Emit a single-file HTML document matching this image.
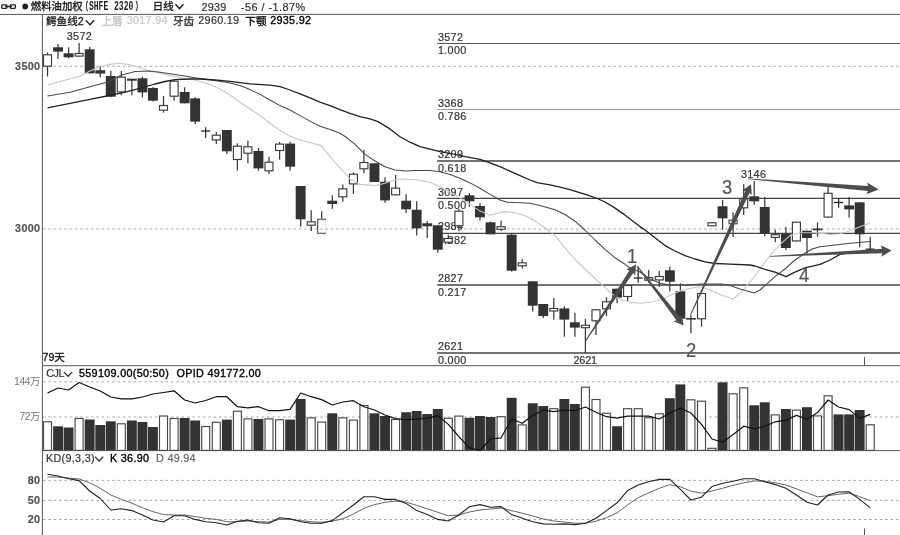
<!DOCTYPE html>
<html lang="zh-CN">
<head>
<meta charset="utf-8">
<title>燃料油加权 日线</title>
<style>
html,body{margin:0;padding:0;background:#fff;}
body{width:900px;height:535px;position:relative;overflow:hidden;font-family:"Liberation Sans","Noto Sans CJK SC",sans-serif;}
.t{position:absolute;white-space:nowrap;line-height:1.2;}
.n{letter-spacing:0.3px;-webkit-text-stroke:0.2px currentColor;}
.k{-webkit-text-stroke:0.35px currentColor;}
.big{transform-origin:0 50%;transform:scaleX(0.9);-webkit-text-stroke:0.2px currentColor;}
.pr{font-size:11px;position:relative;top:-0.9px;font-weight:normal;-webkit-text-stroke:0.4px currentColor;}
.mono{font-family:"Liberation Mono",monospace;transform-origin:0 50%;transform:scaleX(0.6);word-spacing:1.6px;}
.cj{-webkit-text-stroke:0.3px currentColor;font-family:"Liberation Sans","Noto Sans CJK SC",sans-serif;}
</style>
</head>
<body>
<svg width="900" height="535" viewBox="0 0 900 535" style="position:absolute;left:0;top:0">
<rect width="900" height="535" fill="#fff"/>
<g stroke="#555" stroke-width="1" fill="none">
<line x1="0" y1="14.4" x2="900" y2="14.4"/>
<line x1="42.4" y1="14.3" x2="42.4" y2="535"/>
<line x1="42.4" y1="365.7" x2="900" y2="365.7"/>
<line x1="42.4" y1="450.6" x2="900" y2="450.6"/>
<line x1="864.5" y1="357" x2="864.5" y2="365.5"/>
<line x1="864.5" y1="528.5" x2="864.5" y2="535"/>
</g>
<g stroke="#aaa" stroke-width="1" stroke-dasharray="2.6,2.73" fill="none">
<line x1="43" y1="66.3" x2="900" y2="66.3"/>
<line x1="43" y1="229.0" x2="900" y2="229.0"/>
<line x1="43" y1="381.8" x2="900" y2="381.8"/>
<line x1="43" y1="417" x2="900" y2="417"/>
<line x1="43" y1="480.4" x2="900" y2="480.4"/>
<line x1="43" y1="500.4" x2="900" y2="500.4"/>
<line x1="43" y1="519.5" x2="900" y2="519.5"/>
</g>
<line x1="437.2" y1="43.5" x2="900" y2="43.5" stroke="#555" stroke-width="1.1"/>
<line x1="437.2" y1="109.5" x2="900" y2="109.5" stroke="#999" stroke-width="1"/>
<line x1="437.2" y1="161" x2="900" y2="161" stroke="#444" stroke-width="1.5"/>
<line x1="437.2" y1="198.4" x2="900" y2="198.4" stroke="#444" stroke-width="1.15"/>
<line x1="437.2" y1="233.3" x2="900" y2="233.3" stroke="#444" stroke-width="1.25"/>
<line x1="437.2" y1="285" x2="900" y2="285" stroke="#444" stroke-width="1.5"/>
<line x1="437.2" y1="353" x2="900" y2="353" stroke="#444" stroke-width="1.5"/>
<g font-family="Liberation Sans, sans-serif" font-size="10.8" fill="#333" stroke="#333" stroke-width="0.2" letter-spacing="0.3">
<text x="438" y="40.6">3572</text>
<text x="438" y="54.3">1.000</text>
<text x="438" y="106.6">3368</text>
<text x="438" y="120.3">0.786</text>
<text x="438" y="158.1">3209</text>
<text x="438" y="171.8">0.618</text>
<text x="438" y="195.5">3097</text>
<text x="438" y="209.2">0.500</text>
<text x="438" y="230.4">2984</text>
<text x="438" y="244.1">0.382</text>
<text x="438" y="282.1">2827</text>
<text x="438" y="295.8">0.217</text>
<text x="438" y="350.1">2621</text>
<text x="438" y="363.8">0.000</text>
</g>
<g>
<line x1="47.5" y1="52.4" x2="47.5" y2="76.4" stroke="#3a3a3a" stroke-width="1.25"/>
<rect x="43.5" y="54.8" width="8.0" height="11.4" fill="#fff" stroke="#3c3c3c" stroke-width="1.15"/>
<line x1="58.0" y1="44" x2="58.0" y2="59" stroke="#3a3a3a" stroke-width="1.25"/>
<rect x="53.1" y="47.3" width="9.9" height="4.3" fill="#333"/>
<line x1="68.6" y1="47.3" x2="68.6" y2="58.3" stroke="#3a3a3a" stroke-width="1.25"/>
<rect x="63.6" y="53.3" width="9.9" height="4.0" fill="#333"/>
<line x1="79.1" y1="43" x2="79.1" y2="56.6" stroke="#3a3a3a" stroke-width="1.25"/>
<rect x="75.1" y="53.5" width="8.0" height="2.6" fill="#fff" stroke="#3c3c3c" stroke-width="1.15"/>
<line x1="89.7" y1="47" x2="89.7" y2="73.3" stroke="#3a3a3a" stroke-width="1.25"/>
<rect x="84.7" y="49.3" width="9.9" height="24.0" fill="#333"/>
<line x1="100.2" y1="65.7" x2="100.2" y2="77.3" stroke="#3a3a3a" stroke-width="1.25"/>
<rect x="95.3" y="70.2" width="9.9" height="3.4" fill="#333"/>
<line x1="110.8" y1="70.7" x2="110.8" y2="97.3" stroke="#3a3a3a" stroke-width="1.25"/>
<rect x="105.8" y="76" width="9.9" height="20.7" fill="#333"/>
<line x1="121.3" y1="71" x2="121.3" y2="95.3" stroke="#3a3a3a" stroke-width="1.25"/>
<rect x="117.3" y="77.2" width="8.0" height="14.7" fill="#fff" stroke="#3c3c3c" stroke-width="1.15"/>
<line x1="131.9" y1="78.7" x2="131.9" y2="95.3" stroke="#3a3a3a" stroke-width="1.25"/>
<rect x="126.9" y="78.7" width="9.9" height="2.0" fill="#333"/>
<line x1="142.4" y1="76.7" x2="142.4" y2="97.3" stroke="#3a3a3a" stroke-width="1.25"/>
<rect x="137.5" y="78.3" width="9.9" height="14.1" fill="#333"/>
<line x1="153.0" y1="87" x2="153.0" y2="101.5" stroke="#3a3a3a" stroke-width="1.25"/>
<rect x="148.0" y="88" width="9.9" height="12.7" fill="#333"/>
<line x1="163.5" y1="96" x2="163.5" y2="112.7" stroke="#3a3a3a" stroke-width="1.25"/>
<rect x="159.5" y="105.5" width="8.0" height="4.7" fill="#fff" stroke="#3c3c3c" stroke-width="1.15"/>
<line x1="174.1" y1="79.3" x2="174.1" y2="100.7" stroke="#3a3a3a" stroke-width="1.25"/>
<rect x="170.1" y="81.2" width="8.0" height="15.0" fill="#fff" stroke="#3c3c3c" stroke-width="1.15"/>
<line x1="184.6" y1="87.3" x2="184.6" y2="103.3" stroke="#3a3a3a" stroke-width="1.25"/>
<rect x="179.7" y="92" width="9.9" height="11.3" fill="#333"/>
<line x1="195.2" y1="97.3" x2="195.2" y2="124" stroke="#3a3a3a" stroke-width="1.25"/>
<rect x="190.2" y="98.4" width="9.9" height="23.2" fill="#333"/>
<line x1="205.7" y1="127.3" x2="205.7" y2="138" stroke="#222" stroke-width="1.2"/>
<line x1="201.2" y1="131.0" x2="210.2" y2="131.0" stroke="#222" stroke-width="1.3"/>
<line x1="216.3" y1="132" x2="216.3" y2="144" stroke="#3a3a3a" stroke-width="1.25"/>
<rect x="212.3" y="135.2" width="8.0" height="4.7" fill="#fff" stroke="#3c3c3c" stroke-width="1.15"/>
<line x1="226.8" y1="130" x2="226.8" y2="154" stroke="#3a3a3a" stroke-width="1.25"/>
<rect x="221.9" y="130" width="9.9" height="21.3" fill="#333"/>
<line x1="237.4" y1="143.3" x2="237.4" y2="170.7" stroke="#3a3a3a" stroke-width="1.25"/>
<rect x="233.4" y="146.2" width="8.0" height="13.3" fill="#fff" stroke="#3c3c3c" stroke-width="1.15"/>
<line x1="247.9" y1="140.7" x2="247.9" y2="163.3" stroke="#3a3a3a" stroke-width="1.25"/>
<rect x="243.9" y="146.8" width="8.0" height="6.4" fill="#fff" stroke="#3c3c3c" stroke-width="1.15"/>
<line x1="258.5" y1="148" x2="258.5" y2="170.7" stroke="#3a3a3a" stroke-width="1.25"/>
<rect x="253.5" y="151" width="9.9" height="17.4" fill="#333"/>
<line x1="269.0" y1="156.7" x2="269.0" y2="174" stroke="#3a3a3a" stroke-width="1.25"/>
<rect x="265.0" y="162.2" width="8.0" height="8.6" fill="#fff" stroke="#3c3c3c" stroke-width="1.15"/>
<line x1="279.6" y1="142" x2="279.6" y2="159.6" stroke="#3a3a3a" stroke-width="1.25"/>
<rect x="275.6" y="144.1" width="8.0" height="6.4" fill="#fff" stroke="#3c3c3c" stroke-width="1.15"/>
<line x1="290.1" y1="141.7" x2="290.1" y2="170.7" stroke="#3a3a3a" stroke-width="1.25"/>
<rect x="285.2" y="143.6" width="9.9" height="23.1" fill="#333"/>
<line x1="300.7" y1="186" x2="300.7" y2="226.7" stroke="#3a3a3a" stroke-width="1.25"/>
<rect x="295.7" y="186" width="9.9" height="33.3" fill="#333"/>
<line x1="311.2" y1="210.3" x2="311.2" y2="231" stroke="#3a3a3a" stroke-width="1.25"/>
<rect x="307.2" y="221.8" width="8.0" height="3.4" fill="#fff" stroke="#3c3c3c" stroke-width="1.15"/>
<line x1="321.7" y1="211.3" x2="321.7" y2="218.7" stroke="#3a3a3a" stroke-width="1.25"/>
<line x1="325.7" y1="219.2" x2="325.7" y2="233.3" stroke="#ccc" stroke-width="1" stroke-dasharray="1.2,1.2"/>
<polyline points="326.0,219.2 317.7,219.2 317.7,233.3 326.0,233.3" fill="none" stroke="#444" stroke-width="1.1"/>
<line x1="332.3" y1="195.3" x2="332.3" y2="208.7" stroke="#3a3a3a" stroke-width="1.25"/>
<rect x="327.3" y="200.7" width="9.9" height="3.3" fill="#333"/>
<line x1="342.8" y1="184.4" x2="342.8" y2="201.7" stroke="#3a3a3a" stroke-width="1.25"/>
<rect x="338.8" y="188.9" width="8.0" height="7.9" fill="#fff" stroke="#3c3c3c" stroke-width="1.15"/>
<line x1="353.4" y1="172.4" x2="353.4" y2="194" stroke="#3a3a3a" stroke-width="1.25"/>
<rect x="349.4" y="174.2" width="8.0" height="9.7" fill="#fff" stroke="#3c3c3c" stroke-width="1.15"/>
<line x1="363.9" y1="150" x2="363.9" y2="173.3" stroke="#3a3a3a" stroke-width="1.25"/>
<rect x="359.9" y="162.5" width="8.0" height="6.3" fill="#fff" stroke="#3c3c3c" stroke-width="1.15"/>
<line x1="374.5" y1="163.3" x2="374.5" y2="182" stroke="#3a3a3a" stroke-width="1.25"/>
<rect x="369.5" y="163.3" width="9.9" height="18.7" fill="#333"/>
<line x1="385.0" y1="177.3" x2="385.0" y2="202.7" stroke="#3a3a3a" stroke-width="1.25"/>
<rect x="380.1" y="181.7" width="9.9" height="18.7" fill="#333"/>
<line x1="395.6" y1="175" x2="395.6" y2="195.3" stroke="#3a3a3a" stroke-width="1.25"/>
<rect x="391.6" y="188.1" width="8.0" height="6.7" fill="#fff" stroke="#3c3c3c" stroke-width="1.15"/>
<line x1="406.1" y1="194.3" x2="406.1" y2="213" stroke="#3a3a3a" stroke-width="1.25"/>
<rect x="401.2" y="200.7" width="9.9" height="8.6" fill="#333"/>
<line x1="416.7" y1="201.3" x2="416.7" y2="235.6" stroke="#3a3a3a" stroke-width="1.25"/>
<rect x="411.7" y="209.7" width="9.9" height="18.7" fill="#333"/>
<line x1="427.2" y1="221" x2="427.2" y2="238" stroke="#3a3a3a" stroke-width="1.25"/>
<rect x="422.3" y="223.3" width="9.9" height="3.0" fill="#333"/>
<line x1="437.8" y1="225.3" x2="437.8" y2="252.7" stroke="#3a3a3a" stroke-width="1.25"/>
<rect x="432.8" y="225.3" width="9.9" height="24.4" fill="#333"/>
<line x1="448.3" y1="234.7" x2="448.3" y2="244" stroke="#3a3a3a" stroke-width="1.25"/>
<rect x="444.3" y="238.5" width="8.0" height="3.7" fill="#fff" stroke="#3c3c3c" stroke-width="1.15"/>
<line x1="458.9" y1="209" x2="458.9" y2="231.3" stroke="#3a3a3a" stroke-width="1.25"/>
<rect x="454.9" y="211.2" width="8.0" height="14.6" fill="#fff" stroke="#3c3c3c" stroke-width="1.15"/>
<line x1="469.4" y1="193" x2="469.4" y2="206.7" stroke="#3a3a3a" stroke-width="1.25"/>
<rect x="464.5" y="195.3" width="9.9" height="6.0" fill="#333"/>
<line x1="480.0" y1="203.3" x2="480.0" y2="220.4" stroke="#3a3a3a" stroke-width="1.25"/>
<rect x="475.0" y="206" width="9.9" height="11.3" fill="#333"/>
<line x1="490.5" y1="221.5" x2="490.5" y2="234.3" stroke="#3a3a3a" stroke-width="1.25"/>
<rect x="485.6" y="222.3" width="9.9" height="12.0" fill="#333"/>
<line x1="501.1" y1="220.7" x2="501.1" y2="231" stroke="#3a3a3a" stroke-width="1.25"/>
<rect x="497.1" y="226.7" width="8.0" height="2.6" fill="#fff" stroke="#3c3c3c" stroke-width="1.15"/>
<line x1="511.6" y1="233.5" x2="511.6" y2="271.5" stroke="#3a3a3a" stroke-width="1.25"/>
<rect x="506.7" y="234.7" width="9.9" height="36.0" fill="#333"/>
<line x1="522.2" y1="259.3" x2="522.2" y2="268.4" stroke="#3a3a3a" stroke-width="1.25"/>
<rect x="518.2" y="262.8" width="8.0" height="3.0" fill="#fff" stroke="#3c3c3c" stroke-width="1.15"/>
<line x1="532.7" y1="281.3" x2="532.7" y2="311.6" stroke="#3a3a3a" stroke-width="1.25"/>
<rect x="527.8" y="281.3" width="9.9" height="24.4" fill="#333"/>
<line x1="543.3" y1="304" x2="543.3" y2="318" stroke="#3a3a3a" stroke-width="1.25"/>
<rect x="538.3" y="304" width="9.9" height="12.0" fill="#333"/>
<line x1="553.8" y1="298" x2="553.8" y2="319.6" stroke="#3a3a3a" stroke-width="1.25"/>
<rect x="549.8" y="308.5" width="8.0" height="2.5" fill="#fff" stroke="#3c3c3c" stroke-width="1.15"/>
<line x1="564.4" y1="306.3" x2="564.4" y2="336.7" stroke="#3a3a3a" stroke-width="1.25"/>
<rect x="559.4" y="308.4" width="9.9" height="11.2" fill="#333"/>
<line x1="574.9" y1="312.7" x2="574.9" y2="336.7" stroke="#3a3a3a" stroke-width="1.25"/>
<rect x="569.9" y="322.3" width="9.9" height="5.3" fill="#333"/>
<line x1="585.4" y1="319" x2="585.4" y2="353" stroke="#3a3a3a" stroke-width="1.25"/>
<rect x="581.4" y="325.3" width="8.0" height="2.4" fill="#fff" stroke="#3c3c3c" stroke-width="1.15"/>
<line x1="596.0" y1="309.3" x2="596.0" y2="335" stroke="#3a3a3a" stroke-width="1.25"/>
<rect x="592.0" y="309.8" width="8.0" height="11.0" fill="#fff" stroke="#3c3c3c" stroke-width="1.15"/>
<line x1="606.5" y1="297.3" x2="606.5" y2="316" stroke="#3a3a3a" stroke-width="1.25"/>
<rect x="602.5" y="301.8" width="8.0" height="7.0" fill="#fff" stroke="#3c3c3c" stroke-width="1.15"/>
<line x1="617.1" y1="288.7" x2="617.1" y2="303.3" stroke="#3a3a3a" stroke-width="1.25"/>
<rect x="612.1" y="288.7" width="9.9" height="9.0" fill="#333"/>
<line x1="627.6" y1="285" x2="627.6" y2="301.7" stroke="#3a3a3a" stroke-width="1.25"/>
<rect x="623.6" y="285.5" width="8.0" height="11.0" fill="#fff" stroke="#3c3c3c" stroke-width="1.15"/>
<line x1="638.2" y1="266.7" x2="638.2" y2="282.7" stroke="#222" stroke-width="1.2"/>
<line x1="633.7" y1="278.0" x2="642.7" y2="278.0" stroke="#222" stroke-width="1.3"/>
<line x1="648.7" y1="270" x2="648.7" y2="282.7" stroke="#3a3a3a" stroke-width="1.25"/>
<rect x="644.7" y="277.6" width="8.0" height="2.6" fill="#fff" stroke="#3c3c3c" stroke-width="1.15"/>
<line x1="659.3" y1="271" x2="659.3" y2="287" stroke="#3a3a3a" stroke-width="1.25"/>
<rect x="655.3" y="276.5" width="8.0" height="3.4" fill="#fff" stroke="#3c3c3c" stroke-width="1.15"/>
<line x1="669.8" y1="266.7" x2="669.8" y2="291.6" stroke="#3a3a3a" stroke-width="1.25"/>
<rect x="664.9" y="270.3" width="9.9" height="11.4" fill="#333"/>
<line x1="680.4" y1="283.3" x2="680.4" y2="318.7" stroke="#3a3a3a" stroke-width="1.25"/>
<rect x="675.4" y="291.3" width="9.9" height="27.4" fill="#333"/>
<line x1="690.9" y1="315.3" x2="690.9" y2="333.3" stroke="#3a3a3a" stroke-width="1.25"/>
<rect x="686.0" y="318" width="9.9" height="1.6" fill="#333"/>
<line x1="701.5" y1="293" x2="701.5" y2="326.7" stroke="#3a3a3a" stroke-width="1.25"/>
<rect x="697.5" y="293.5" width="8.0" height="25.3" fill="#fff" stroke="#3c3c3c" stroke-width="1.15"/>
<line x1="712.0" y1="222.3" x2="712.0" y2="226.3" stroke="#3a3a3a" stroke-width="1.25"/>
<rect x="708.0" y="222.8" width="8.0" height="3.0" fill="#fff" stroke="#3c3c3c" stroke-width="1.15"/>
<line x1="722.6" y1="200" x2="722.6" y2="229.7" stroke="#3a3a3a" stroke-width="1.25"/>
<rect x="717.6" y="206.3" width="9.9" height="12.0" fill="#333"/>
<line x1="733.1" y1="212.3" x2="733.1" y2="237" stroke="#3a3a3a" stroke-width="1.25"/>
<rect x="729.1" y="220.2" width="8.0" height="3.6" fill="#fff" stroke="#3c3c3c" stroke-width="1.15"/>
<line x1="743.7" y1="184.3" x2="743.7" y2="215" stroke="#3a3a3a" stroke-width="1.25"/>
<rect x="739.7" y="198.8" width="8.0" height="9.0" fill="#fff" stroke="#3c3c3c" stroke-width="1.15"/>
<line x1="754.2" y1="181" x2="754.2" y2="204.7" stroke="#3a3a3a" stroke-width="1.25"/>
<rect x="749.3" y="196.3" width="9.9" height="5.0" fill="#333"/>
<line x1="764.8" y1="197" x2="764.8" y2="236.3" stroke="#3a3a3a" stroke-width="1.25"/>
<rect x="759.8" y="207" width="9.9" height="26.7" fill="#333"/>
<line x1="775.3" y1="229.7" x2="775.3" y2="242.3" stroke="#3a3a3a" stroke-width="1.25"/>
<rect x="771.3" y="234.7" width="8.0" height="2.7" fill="#fff" stroke="#3c3c3c" stroke-width="1.15"/>
<line x1="785.9" y1="227" x2="785.9" y2="250.3" stroke="#3a3a3a" stroke-width="1.25"/>
<rect x="780.9" y="233.7" width="9.9" height="14.3" fill="#333"/>
<line x1="796.4" y1="221.7" x2="796.4" y2="241.4" stroke="#3a3a3a" stroke-width="1.25"/>
<rect x="792.4" y="222.2" width="8.0" height="18.7" fill="#fff" stroke="#3c3c3c" stroke-width="1.15"/>
<line x1="807.0" y1="230.7" x2="807.0" y2="253.7" stroke="#3a3a3a" stroke-width="1.25"/>
<rect x="802.0" y="230.7" width="9.9" height="7.3" fill="#333"/>
<line x1="817.5" y1="222.3" x2="817.5" y2="236.6" stroke="#3a3a3a" stroke-width="1.25"/>
<rect x="812.6" y="228.5" width="9.9" height="1.8" fill="#333"/>
<line x1="828.1" y1="186.7" x2="828.1" y2="217.6" stroke="#3a3a3a" stroke-width="1.25"/>
<rect x="824.1" y="193.3" width="8.0" height="23.8" fill="#fff" stroke="#3c3c3c" stroke-width="1.15"/>
<line x1="838.6" y1="198.3" x2="838.6" y2="207.7" stroke="#222" stroke-width="1.2"/>
<line x1="834.1" y1="202.5" x2="843.1" y2="202.5" stroke="#222" stroke-width="1.3"/>
<line x1="849.1" y1="197" x2="849.1" y2="217.4" stroke="#3a3a3a" stroke-width="1.25"/>
<rect x="844.2" y="205.4" width="9.9" height="4.0" fill="#333"/>
<line x1="859.7" y1="202.3" x2="859.7" y2="247.3" stroke="#3a3a3a" stroke-width="1.25"/>
<rect x="854.7" y="202.3" width="9.9" height="32.0" fill="#333"/>
<line x1="870.2" y1="236.7" x2="870.2" y2="249.7" stroke="#222" stroke-width="1.2"/>
<line x1="865.7" y1="249.2" x2="874.7" y2="249.2" stroke="#222" stroke-width="1.3"/>
</g>
<polyline points="47.5,85.0 62.0,81.0 80.0,76.2 90.0,71.0 100.0,66.7 110.0,64.4 118.0,63.3 128.0,64.4 140.0,67.8 150.0,71.0 165.0,74.4 180.0,77.8 195.0,80.0 210.0,84.4 220.0,89.0 230.0,95.0 240.0,102.0 250.0,109.0 260.0,115.5 270.0,123.3 280.0,130.5 290.0,136.0 300.0,140.0 310.0,142.5 321.0,145.6 330.0,156.7 340.0,167.8 350.0,179.0 360.0,184.4 375.0,185.6 385.0,183.3 395.0,180.0 400.0,179.0 415.0,179.6 430.0,182.2 440.0,186.7 450.0,192.2 460.0,197.8 470.0,204.4 480.0,211.1 490.0,215.1 497.0,213.3 505.0,211.6 515.0,212.7 525.0,215.6 535.0,221.1 545.0,227.8 555.0,235.6 565.0,247.8 575.0,259.5 585.0,269.0 595.0,278.5 605.0,287.5 612.0,294.0 620.0,299.0 630.0,302.2 640.0,303.3 650.0,302.2 660.0,300.0 670.0,295.6 680.0,291.0 690.0,288.4 700.0,286.7 710.0,290.0 720.0,294.4 733.0,299.0 740.0,293.3 750.0,282.2 760.0,269.0 770.0,255.6 780.0,244.4 790.0,235.6 800.0,232.7 815.0,232.7 830.0,234.4 840.0,233.8 850.0,231.0 860.0,226.7 870.0,223.0" fill="none" stroke="#c8c8c8" stroke-width="1.1" stroke-linejoin="round"/>
<polyline points="47.5,96.0 70.0,92.2 90.0,86.7 107.0,82.2 120.0,75.6 135.0,71.6 150.0,71.0 160.0,72.2 175.0,74.4 195.0,77.8 215.0,80.4 230.0,83.0 240.0,85.6 250.0,89.6 260.0,94.4 270.0,100.0 280.0,105.6 290.0,110.0 300.0,115.6 310.0,121.1 320.0,126.2 330.0,129.6 340.0,133.3 347.0,137.8 355.0,144.4 365.0,154.4 375.0,161.0 385.0,166.7 395.0,170.0 405.0,171.0 415.0,170.4 430.0,170.4 440.0,171.8 450.0,174.4 460.0,178.2 470.0,182.9 480.0,188.2 490.0,194.4 500.0,200.0 507.0,202.2 520.0,202.7 530.0,203.3 540.0,205.6 555.0,209.8 565.0,214.5 575.0,221.2 585.0,230.0 595.0,240.0 605.0,249.3 615.0,257.8 625.0,264.3 630.0,268.0 640.0,272.0 650.0,279.0 660.0,283.3 670.0,285.0 690.0,285.0 700.0,284.0 722.0,284.0 730.0,285.6 740.0,289.0 754.0,293.0 760.0,290.0 765.0,285.6 775.0,276.7 785.0,269.0 795.0,260.0 805.0,253.3 812.0,249.0 820.0,246.7 835.0,245.0 850.0,243.3 870.0,241.6" fill="none" stroke="#484848" stroke-width="1.05" stroke-linejoin="round"/>
<polyline points="47.5,107.8 70.0,103.3 90.0,99.3 107.0,96.0 125.0,92.2 140.0,88.4 155.0,84.0 165.0,81.5 175.0,79.6 190.0,79.0 200.0,79.0 215.0,80.0 230.0,81.3 250.0,83.8 270.0,85.1 280.0,86.7 290.0,90.0 300.0,93.8 310.0,97.8 320.0,102.2 330.0,105.6 340.0,109.6 350.0,113.3 360.0,116.7 370.0,118.9 378.0,121.6 390.0,128.9 400.0,136.7 410.0,142.2 420.0,146.7 440.0,151.6 455.0,154.4 465.0,156.7 480.0,159.3 490.0,162.9 500.0,166.7 510.0,171.1 520.0,175.6 530.0,180.0 537.0,182.7 550.0,184.9 560.0,187.2 569.0,189.4 578.0,192.1 587.0,194.8 596.0,198.0 605.0,202.0 614.0,207.4 623.0,213.6 632.0,220.4 640.0,226.6 645.0,230.0 655.0,237.8 665.0,245.6 675.0,251.0 685.0,255.6 695.0,259.0 705.0,261.8 715.0,263.5 730.0,264.2 750.0,265.0 755.0,266.0 765.0,269.3 775.0,272.2 786.0,276.7 795.0,272.2 805.0,267.8 820.0,264.4 830.0,260.0 840.0,254.4 850.0,252.7 870.0,251.0" fill="none" stroke="#222" stroke-width="1.3" stroke-linejoin="round"/>
<polygon points="585.9,341.2 633.2,273.0 635.1,275.4 636.0,264.6 626.4,269.6 629.4,270.4 585.1,340.8" fill="#4d4d4d"/>
<polygon points="636.6,266.3 676.5,320.2 673.6,321.2 683.6,325.4 681.9,314.7 680.2,317.2 637.4,265.7" fill="#4d4d4d"/>
<polygon points="690.9,315.2 749.5,192.9 751.8,195.0 751.0,184.2 742.2,190.6 745.3,190.9 690.1,314.8" fill="#4d4d4d"/>
<polygon points="748.0,179.2 867.8,191.0 866.3,194.3 878.6,189.4 867.2,182.6 868.2,186.1 748.0,178.4" fill="#4d4d4d"/>
<polygon points="770.0,256.7 882.3,253.2 881.3,256.7 891.7,250.5 880.8,245.3 882.1,248.7 770.0,255.9" fill="#4d4d4d"/>
<rect x="43.5" y="421.8" width="8.0" height="28.6" fill="#fff" stroke="#4a4a4a" stroke-width="1.15"/>
<rect x="53.1" y="426.3" width="9.9" height="24.1" fill="#333"/>
<rect x="63.6" y="427.5" width="9.9" height="22.9" fill="#333"/>
<rect x="75.1" y="418.5" width="8.0" height="31.9" fill="#fff" stroke="#4a4a4a" stroke-width="1.15"/>
<rect x="84.7" y="419.5" width="9.9" height="30.9" fill="#333"/>
<rect x="95.3" y="425" width="9.9" height="25.4" fill="#333"/>
<rect x="105.8" y="421.3" width="9.9" height="29.1" fill="#333"/>
<rect x="117.3" y="423.8" width="8.0" height="26.6" fill="#fff" stroke="#4a4a4a" stroke-width="1.15"/>
<rect x="126.9" y="420.5" width="9.9" height="29.9" fill="#333"/>
<rect x="137.5" y="422" width="9.9" height="28.4" fill="#333"/>
<rect x="148.0" y="427" width="9.9" height="23.4" fill="#333"/>
<rect x="159.5" y="416.0" width="8.0" height="34.4" fill="#fff" stroke="#4a4a4a" stroke-width="1.15"/>
<rect x="170.1" y="418.5" width="8.0" height="31.9" fill="#fff" stroke="#4a4a4a" stroke-width="1.15"/>
<rect x="179.7" y="418" width="9.9" height="32.4" fill="#333"/>
<rect x="190.2" y="420.5" width="9.9" height="29.9" fill="#333"/>
<rect x="201.7" y="426.5" width="8.0" height="23.9" fill="#fff" stroke="#4a4a4a" stroke-width="1.15"/>
<rect x="212.3" y="422.3" width="8.0" height="28.1" fill="#fff" stroke="#4a4a4a" stroke-width="1.15"/>
<rect x="221.9" y="419.6" width="9.9" height="30.8" fill="#333"/>
<rect x="233.4" y="411.2" width="8.0" height="39.2" fill="#fff" stroke="#4a4a4a" stroke-width="1.15"/>
<rect x="243.9" y="418.9" width="8.0" height="31.5" fill="#fff" stroke="#4a4a4a" stroke-width="1.15"/>
<rect x="253.5" y="418.9" width="9.9" height="31.5" fill="#333"/>
<rect x="265.0" y="418.9" width="8.0" height="31.5" fill="#fff" stroke="#4a4a4a" stroke-width="1.15"/>
<rect x="275.6" y="419.8" width="8.0" height="30.6" fill="#fff" stroke="#4a4a4a" stroke-width="1.15"/>
<rect x="285.2" y="419.6" width="9.9" height="30.8" fill="#333"/>
<rect x="295.7" y="399" width="9.9" height="51.4" fill="#333"/>
<rect x="307.2" y="417.8" width="8.0" height="32.6" fill="#fff" stroke="#4a4a4a" stroke-width="1.15"/>
<rect x="317.7" y="422.1" width="8.0" height="28.3" fill="#fff" stroke="#4a4a4a" stroke-width="1.15"/>
<rect x="327.3" y="413.3" width="9.9" height="37.1" fill="#333"/>
<rect x="338.8" y="417.8" width="8.0" height="32.6" fill="#fff" stroke="#4a4a4a" stroke-width="1.15"/>
<rect x="349.4" y="420.1" width="8.0" height="30.3" fill="#fff" stroke="#4a4a4a" stroke-width="1.15"/>
<rect x="359.9" y="405.5" width="8.0" height="44.9" fill="#fff" stroke="#4a4a4a" stroke-width="1.15"/>
<rect x="369.5" y="413.3" width="9.9" height="37.1" fill="#333"/>
<rect x="380.1" y="416" width="9.9" height="34.4" fill="#333"/>
<rect x="391.6" y="419.5" width="8.0" height="30.9" fill="#fff" stroke="#4a4a4a" stroke-width="1.15"/>
<rect x="401.2" y="412.2" width="9.9" height="38.2" fill="#333"/>
<rect x="411.7" y="411" width="9.9" height="39.4" fill="#333"/>
<rect x="422.3" y="414" width="9.9" height="36.4" fill="#333"/>
<rect x="432.8" y="409" width="9.9" height="41.4" fill="#333"/>
<rect x="444.3" y="418.3" width="8.0" height="32.1" fill="#fff" stroke="#4a4a4a" stroke-width="1.15"/>
<rect x="454.9" y="416.1" width="8.0" height="34.3" fill="#fff" stroke="#4a4a4a" stroke-width="1.15"/>
<rect x="464.5" y="417.8" width="9.9" height="32.6" fill="#333"/>
<rect x="475.0" y="416" width="9.9" height="34.4" fill="#333"/>
<rect x="485.6" y="417" width="9.9" height="33.4" fill="#333"/>
<rect x="497.1" y="416.7" width="8.0" height="33.7" fill="#fff" stroke="#4a4a4a" stroke-width="1.15"/>
<rect x="506.7" y="397.8" width="9.9" height="52.6" fill="#333"/>
<rect x="518.2" y="424.9" width="8.0" height="25.5" fill="#fff" stroke="#4a4a4a" stroke-width="1.15"/>
<rect x="527.8" y="403.3" width="9.9" height="47.1" fill="#333"/>
<rect x="538.3" y="406" width="9.9" height="44.4" fill="#333"/>
<rect x="549.8" y="408.7" width="8.0" height="41.7" fill="#fff" stroke="#4a4a4a" stroke-width="1.15"/>
<rect x="559.4" y="399" width="9.9" height="51.4" fill="#333"/>
<rect x="569.9" y="404" width="9.9" height="46.4" fill="#333"/>
<rect x="581.4" y="387.2" width="8.0" height="63.2" fill="#fff" stroke="#4a4a4a" stroke-width="1.15"/>
<rect x="592.0" y="399.5" width="8.0" height="50.9" fill="#fff" stroke="#4a4a4a" stroke-width="1.15"/>
<rect x="602.5" y="413.2" width="8.0" height="37.2" fill="#fff" stroke="#4a4a4a" stroke-width="1.15"/>
<rect x="612.1" y="426.2" width="9.9" height="24.2" fill="#333"/>
<rect x="623.6" y="408.7" width="8.0" height="41.7" fill="#fff" stroke="#4a4a4a" stroke-width="1.15"/>
<rect x="634.2" y="408.7" width="8.0" height="41.7" fill="#fff" stroke="#4a4a4a" stroke-width="1.15"/>
<rect x="644.7" y="417.8" width="8.0" height="32.6" fill="#fff" stroke="#4a4a4a" stroke-width="1.15"/>
<rect x="655.3" y="413.8" width="8.0" height="36.6" fill="#fff" stroke="#4a4a4a" stroke-width="1.15"/>
<rect x="664.9" y="398.2" width="9.9" height="52.2" fill="#333"/>
<rect x="675.4" y="384.4" width="9.9" height="66.0" fill="#333"/>
<rect x="686.9" y="399.8" width="8.0" height="50.6" fill="#fff" stroke="#4a4a4a" stroke-width="1.15"/>
<rect x="697.5" y="401.2" width="8.0" height="49.2" fill="#fff" stroke="#4a4a4a" stroke-width="1.15"/>
<rect x="708.0" y="448.3" width="8.0" height="2.1" fill="#fff" stroke="#4a4a4a" stroke-width="1.15"/>
<rect x="717.6" y="382.3" width="9.9" height="68.1" fill="#333"/>
<rect x="729.1" y="393.8" width="8.0" height="56.6" fill="#fff" stroke="#4a4a4a" stroke-width="1.15"/>
<rect x="739.7" y="387.8" width="8.0" height="62.6" fill="#fff" stroke="#4a4a4a" stroke-width="1.15"/>
<rect x="749.3" y="405.3" width="9.9" height="45.1" fill="#333"/>
<rect x="759.8" y="402.3" width="9.9" height="48.1" fill="#333"/>
<rect x="771.3" y="414.9" width="8.0" height="35.5" fill="#fff" stroke="#4a4a4a" stroke-width="1.15"/>
<rect x="780.9" y="409" width="9.9" height="41.4" fill="#333"/>
<rect x="792.4" y="410.1" width="8.0" height="40.3" fill="#fff" stroke="#4a4a4a" stroke-width="1.15"/>
<rect x="802.0" y="407.2" width="9.9" height="43.2" fill="#333"/>
<rect x="813.5" y="415.9" width="8.0" height="34.5" fill="#fff" stroke="#4a4a4a" stroke-width="1.15"/>
<rect x="824.1" y="395.8" width="8.0" height="54.6" fill="#fff" stroke="#4a4a4a" stroke-width="1.15"/>
<rect x="833.6" y="414.4" width="9.9" height="36.0" fill="#333"/>
<rect x="844.2" y="414.4" width="9.9" height="36.0" fill="#333"/>
<rect x="854.7" y="410" width="9.9" height="40.4" fill="#333"/>
<rect x="866.2" y="424.8" width="8.0" height="25.6" fill="#fff" stroke="#4a4a4a" stroke-width="1.15"/>
<polyline points="47.5,393.0 58.0,388.0 68.6,390.0 79.1,382.5 89.7,387.0 100.2,391.0 110.8,397.0 121.3,398.8 131.9,398.8 142.4,397.0 153.0,394.0 163.5,392.5 174.1,390.8 184.6,400.0 195.2,403.0 205.7,400.5 216.3,396.7 226.8,396.7 237.4,406.7 247.9,407.8 258.5,406.7 269.0,410.7 279.6,410.7 290.1,409.3 300.7,393.0 311.2,396.7 321.7,399.6 332.3,405.0 342.8,402.0 353.4,400.7 363.9,406.7 374.5,410.0 385.0,415.0 395.6,418.6 406.1,419.6 416.7,419.0 427.2,418.4 437.8,415.6 448.3,424.4 458.9,436.7 469.4,447.8 480.0,450.4 490.5,439.0 501.1,437.8 511.6,419.0 522.2,423.3 532.7,415.6 543.3,410.0 553.8,411.6 564.4,410.0 574.9,410.7 585.4,407.0 596.0,412.2 606.5,416.7 617.1,418.2 627.6,416.2 638.2,416.2 648.7,416.2 659.3,419.0 669.8,413.0 680.4,408.2 690.9,413.0 701.5,424.4 712.0,439.0 722.6,442.2 733.1,434.4 743.7,426.2 754.2,428.9 764.8,426.3 775.3,421.8 785.9,420.2 796.4,415.4 807.0,419.3 817.5,412.6 828.1,400.0 838.6,407.0 849.1,409.6 859.7,418.4 870.2,414.4" fill="none" stroke="#111" stroke-width="1.2" stroke-linejoin="round"/>
<polyline points="47.5,477.0 58.0,477.0 68.6,478.0 79.1,479.0 89.7,482.8 100.2,488.3 110.8,495.0 121.3,499.4 131.9,503.2 142.4,507.7 153.0,511.7 163.5,514.6 174.1,515.0 184.6,515.0 195.2,516.6 205.7,518.3 216.3,519.4 226.8,521.7 237.4,521.7 247.9,521.0 258.5,521.7 269.0,522.0 279.6,519.4 290.1,519.4 300.7,520.6 311.2,521.7 321.7,522.3 332.3,521.2 342.8,518.8 353.4,514.0 363.9,508.3 374.5,504.6 385.0,502.3 395.6,501.2 406.1,502.0 416.7,505.4 427.2,508.8 437.8,512.3 448.3,515.7 458.9,515.0 469.4,512.0 480.0,510.0 490.5,509.0 501.1,508.0 511.6,510.6 522.2,513.2 532.7,516.0 543.3,519.0 553.8,521.0 564.4,522.0 574.9,523.2 585.4,523.2 596.0,521.2 606.5,517.7 617.1,512.8 627.6,505.0 638.2,497.7 648.7,492.8 659.3,488.3 669.8,484.6 680.4,486.8 690.9,491.2 701.5,493.2 712.0,491.0 722.6,488.3 733.1,485.4 743.7,482.8 754.2,481.0 764.8,481.2 775.3,482.8 785.9,485.0 796.4,488.8 807.0,492.8 817.5,496.8 828.1,495.7 838.6,494.3 849.1,493.2 859.7,496.6 870.2,500.6" fill="none" stroke="#666" stroke-width="1" stroke-linejoin="round"/>
<polyline points="47.5,474.3 58.0,476.0 68.6,478.8 79.1,480.6 89.7,491.0 100.2,498.5 110.8,510.0 121.3,508.8 131.9,510.6 142.4,515.0 153.0,520.0 163.5,522.0 174.1,515.7 184.6,515.7 195.2,519.4 205.7,521.7 216.3,522.8 226.8,525.0 237.4,521.2 247.9,520.0 258.5,522.8 269.0,523.2 279.6,517.7 290.1,518.8 300.7,521.7 311.2,523.2 321.7,523.2 332.3,520.6 342.8,512.8 353.4,505.0 363.9,496.8 374.5,496.8 385.0,499.4 395.6,499.4 406.1,503.4 416.7,510.6 427.2,514.6 437.8,519.4 448.3,521.0 458.9,515.0 469.4,506.8 480.0,504.6 490.5,507.2 501.1,506.6 511.6,514.6 522.2,518.3 532.7,521.7 543.3,523.9 553.8,524.3 564.4,523.9 574.9,524.6 585.4,523.2 596.0,518.3 606.5,510.6 617.1,502.8 627.6,490.6 638.2,485.0 648.7,481.7 659.3,479.4 669.8,479.4 680.4,489.4 690.9,500.0 701.5,497.2 712.0,486.6 722.6,483.2 733.1,481.2 743.7,478.8 754.2,478.8 764.8,481.7 775.3,484.6 785.9,488.3 796.4,495.0 807.0,502.3 817.5,505.0 828.1,495.0 838.6,492.0 849.1,491.7 859.7,499.4 870.2,507.9" fill="none" stroke="#222" stroke-width="1.1" stroke-linejoin="round"/>
<g fill="none" stroke="#222" stroke-width="1.3"><rect x="1.7" y="4.8" width="5.2" height="3.5" rx="0.8"/><rect x="10.2" y="4.8" width="5.2" height="3.5" rx="0.8"/><line x1="5" y1="6.55" x2="12" y2="6.55"/></g>
<circle cx="25.2" cy="6.5" r="2.9" fill="#222"/>
<polyline points="175.5,4.3 179.5,8.6 183.5,4.3" fill="none" stroke="#222" stroke-width="1.4"/>
<polyline points="85.8,20.3 90.0,24.700000000000003 94.2,20.3" fill="none" stroke="#222" stroke-width="1.4"/>
<polyline points="64,372.1 68.1,376.3 72.2,372.1" fill="none" stroke="#333" stroke-width="1.3"/>
<polyline points="95,456.8 99.1,461.0 103.2,456.8" fill="none" stroke="#333" stroke-width="1.3"/>
</svg>
<span class="t cj" style="left:30.8px;top:1px;font-size:10.4px;color:#111;font-weight:normal;">燃料油加权</span><span class="t mono" style="left:85.4px;top:-1.3px;font-size:13.4px;color:#222;font-weight:bold;"><span class="pr">(</span>SHFE 2320<span class="pr" style="margin-left:2.5px">)</span></span><span class="t cj" style="left:152.8px;top:1px;font-size:10.4px;color:#111;font-weight:normal;">日线</span><span class="t n" style="left:201.4px;top:0.5px;font-size:10.8px;color:#333;font-weight:normal;">2939</span><span class="t n" style="left:240.8px;top:0.5px;font-size:10.8px;color:#333;font-weight:normal;letter-spacing:0.5px;">-56 / -1.87%</span><span class="t cj" style="left:46px;top:15.3px;font-size:10.6px;color:#222;font-weight:normal;">鳄鱼线2</span><span class="t cj" style="left:101.5px;top:15.3px;font-size:10.6px;color:#c4c4c4;font-weight:normal;">上唇</span><span class="t n" style="left:126.7px;top:14.2px;font-size:10.8px;color:#c4c4c4;font-weight:normal;">3017.94</span><span class="t cj" style="left:173px;top:15.3px;font-size:10.6px;color:#333;font-weight:normal;">牙齿</span><span class="t n" style="left:198.3px;top:14.2px;font-size:10.8px;color:#333;font-weight:normal;">2960.19</span><span class="t cj" style="left:245.3px;top:15.3px;font-size:10.6px;color:#000;font-weight:normal;">下颚</span><span class="t n k" style="left:270.2px;top:14.2px;font-size:10.8px;color:#000;font-weight:normal;">2935.92</span><span class="t n" style="left:66.8px;top:29.8px;font-size:10.8px;color:#333;font-weight:normal;">3572</span><span class="t n" style="right:859.7px;top:59.5px;font-size:10.8px;color:#555;font-weight:bold;">3500</span><span class="t n" style="right:859.7px;top:222.3px;font-size:10.8px;color:#555;font-weight:bold;">3000</span><span class="t n" style="left:741px;top:167.5px;font-size:10.8px;color:#333;font-weight:normal;">3146</span><span class="t n" style="left:573.4px;top:354px;font-size:10.8px;color:#333;font-weight:normal;letter-spacing:-0.1px;">2621</span><span class="t big" style="left:627.3px;top:243.9px;font-size:20.4px;color:#555;font-weight:normal;">1</span><span class="t big" style="left:686px;top:338.2px;font-size:20.4px;color:#555;font-weight:normal;">2</span><span class="t big" style="left:722.3px;top:174.5px;font-size:20.4px;color:#555;font-weight:normal;">3</span><span class="t big" style="left:798.8px;top:262.5px;font-size:20.4px;color:#555;font-weight:normal;">4</span><span class="t cj" style="left:42.5px;top:351.3px;font-size:10.6px;color:#111;font-weight:normal;">79天</span><span class="t n" style="left:46.3px;top:366.5px;font-size:10.8px;color:#333;font-weight:normal;letter-spacing:-0.5px;">CJL</span><span class="t n k" style="left:79px;top:366.5px;font-size:10.8px;color:#000;font-weight:normal;">559109.00(50:50)</span><span class="t n k" style="left:176.5px;top:366.5px;font-size:10.8px;color:#000;font-weight:normal;">OPID 491772.00</span><span class="t cj0" style="right:860px;top:375.8px;font-size:10.3px;color:#777;font-weight:normal;letter-spacing:-0.4px;">144万</span><span class="t cj0" style="right:860px;top:410.8px;font-size:10.3px;color:#777;font-weight:normal;letter-spacing:-0.4px;">72万</span><span class="t n" style="left:46px;top:451.5px;font-size:10.8px;color:#333;font-weight:normal;">KD(9,3,3)</span><span class="t n k" style="left:110px;top:451.5px;font-size:10.8px;color:#000;font-weight:normal;">K 36.90</span><span class="t n" style="left:156px;top:451.5px;font-size:10.8px;color:#666;font-weight:normal;">D 49.94</span><span class="t n" style="right:859.7px;top:473.5px;font-size:10.8px;color:#555;font-weight:bold;">80</span><span class="t n" style="right:859.7px;top:493.5px;font-size:10.8px;color:#555;font-weight:bold;">50</span><span class="t n" style="right:859.7px;top:513px;font-size:10.8px;color:#555;font-weight:bold;">20</span>
</body>
</html>
